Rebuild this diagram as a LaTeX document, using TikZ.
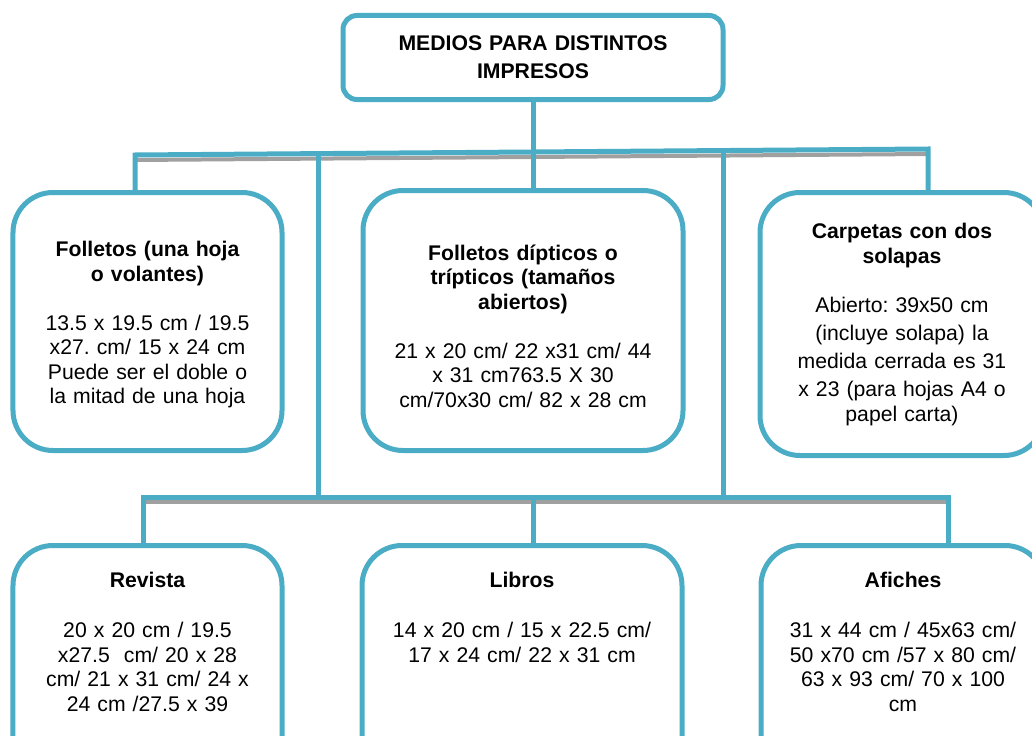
\documentclass[tikz,border=0pt]{standalone}
\usepackage{fontspec}
\setmainfont{Liberation Sans}
\usetikzlibrary{calc}
\definecolor{boxline}{HTML}{4BACC6}
\definecolor{shadowgray}{HTML}{A0A0A0}
\newcommand{\boxhead}[2][24.5bp]{{\bfseries #2\par}\vspace{#1}}
\frenchspacing

\begin{document}
\begin{tikzpicture}[x=1bp, y=-1bp,
  box/.style={draw=boxline, line width=5bp, fill=white, rounded corners=40bp,
    inner sep=0pt, align=center, anchor=north,
    font=\fontsize{21.2bp}{24.5bp}\selectfont},
  link/.style={draw=boxline, line width=5bp},
  barshadow/.style={draw=shadowgray, line width=4bp}]
  \useasboundingbox (0,0) rectangle (1032,736);
  \clip (0,0) rectangle (1032,736);
  \node[box, rounded corners=14bp, text width=380bp, text height=35bp, text depth=49bp,
    font=\fontsize{21.2bp}{28.5bp}\selectfont\bfseries] (top) at (533,13)
    {MEDIOS PARA DISTINTOS\\IMPRESOS};
  \node[box, text width=269bp, text height=64bp, text depth=194bp] (fol) at (147.5,190)
    {\boxhead{Folletos (una hoja\\o volantes)}13.5 x 19.5 cm / 19.5\\x27. cm/ 15 x 24 cm\\Puede ser el doble o\\la mitad de una hoja};
  \node[box, text width=320bp, text height=69.5bp, text depth=190.5bp] (dip) at (523,188)
    {\boxhead{Folletos dípticos o\\trípticos (tamaños\\abiertos)}21 x 20 cm/ 22 x31 cm/ 44\\x 31 cm763.5 X 30\\cm/70x30 cm/ 82 x 28 cm};
  \node[box, text width=284bp, text height=46bp, text depth=217bp] (car) at (902,190)
    {\boxhead[21.5bp]{Carpetas con dos\\solapas}\fontsize{21.2bp}{28bp}\selectfont Abierto: 39x50 cm\\(incluye solapa) la\\medida cerrada es 31\\x 23 (para hojas A4 o\\papel carta)};
  \node[box, text width=269bp, text height=42bp, text depth=240bp] (rev) at (147.5,543)
    {\boxhead[25.5bp]{Revista}20 x 20 cm / 19.5\\x27.5~ cm/ 20 x 28\\cm/ 21 x 31 cm/ 24 x\\24 cm /27.5 x 39};
  \node[box, text width=320bp, text height=42bp, text depth=240bp] (lib) at (522,543)
    {\boxhead[25.5bp]{Libros}14 x 20 cm / 15 x 22.5 cm/\\17 x 24 cm/ 22 x 31 cm};
  \node[box, text width=284bp, text height=42bp, text depth=240bp] (afi) at (903,543)
    {\boxhead[25.5bp]{Afiches}31 x 44 cm / 45x63 cm/\\50 x70 cm /57 x 80 cm/\\63 x 93 cm/ 70 x 100\\cm};
  \coordinate (ul) at (135,155);
  \coordinate (ur) at (928,149);
  \coordinate (ll) at (143,497);
  \coordinate (lr) at (948,497);
  \coordinate (j1) at ($(ul)!0.2308!(ur)$);
  \coordinate (j2) at ($(ul)!0.7415!(ur)$);
  \draw[barshadow] ($(ul)+(0,5)$) -- ($(ur)+(0,5)$);
  \draw[barshadow] ($(ll)+(0,5)$) -- ($(lr)+(0,5)$);
  \draw[link] (ul |- fol.north) -- (ul) -- (ur) -- (ur |- car.north);
  \draw[link] (top.south) -- (top.south |- dip.north);
  \draw[link] (j1) -- (j1 |- ll);
  \draw[link] (j2) -- (j2 |- ll);
  \draw[link] (ll |- rev.north) -- (ll) -- (lr) -- (lr |- afi.north);
  \draw[link] (top.south |- ll) -- (top.south |- lib.north);
\end{tikzpicture}
\end{document}
